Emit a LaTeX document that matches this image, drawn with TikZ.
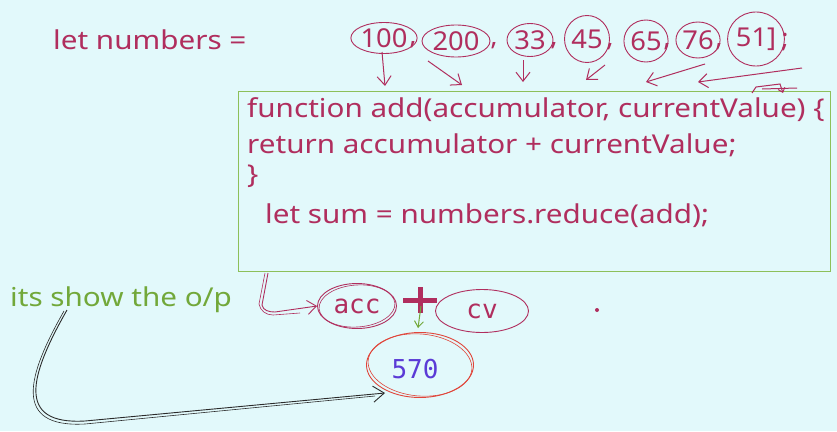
\documentclass[tikz,border=0pt]{standalone}
\usepackage{fontspec}
\setmainfont{Noto Sans}
\newfontfamily\handf[FakeStretch=1.14]{Noto Sans}
\newfontfamily\numf[FakeStretch=1.05]{Noto Sans}
\newfontfamily\monof{DejaVu Sans Mono}
\usetikzlibrary{shapes.geometric,arrows.meta}
\definecolor{bg}{HTML}{E2F9FB}
\definecolor{ink}{HTML}{B02E5E}
\definecolor{grn}{HTML}{72A83A}
\definecolor{boxg}{HTML}{8DC05A}
\definecolor{redc}{HTML}{E0453A}
\definecolor{purp}{HTML}{5B3BD6}
\definecolor{blk}{HTML}{2B2B2B}
\tikzset{
  hand/.style={font=\handf\fontsize{26}{30}\selectfont, text=ink, inner sep=0pt},
  num/.style={ellipse, draw=ink, line width=0.9pt, inner sep=0pt, font=\numf\fontsize{26}{30}\selectfont, text=ink},
  comma/.style={font=\numf\fontsize{26}{30}\selectfont, text=ink, inner sep=0pt},
  arr/.style={draw=ink, line width=1pt, -{Straight Barb[length=9pt,width=14pt]}},
  mono/.style={font=\monof\fontsize{26}{30}\selectfont, inner sep=0pt},
}
\begin{document}
\begin{tikzpicture}[x=1pt,y=-1pt]
\fill[bg] (0,0) rectangle (837,431);
\useasboundingbox (0,0) rectangle (837,431);

% let numbers =
\node[hand, anchor=west] (letn) at (53,40) {let numbers =};

% numbers
\node[num, minimum width=47, minimum height=31] (n100) at (384,38) {100};
\node[comma] (c1) at (413,45) {,};
\node[num, minimum width=68, minimum height=32] (n200) at (456,41) {200};
\node[comma] (c2) at (494,46) {,};
\node[num, minimum width=46, minimum height=33] (n33) at (530,40) {33};
\node[comma] (c3) at (554,46) {,};
\node[num, minimum width=45, minimum height=47] (n45) at (587,39) {45};
\node[comma] (c4) at (610,47) {,};
\node[num, minimum width=43, minimum height=42] (n65) at (646,41) {65};
\node[comma] (c5) at (667,47) {,};
\node[num, minimum width=44, minimum height=36] (n76) at (698,40) {76};
\node[comma] (c6) at (719,47) {,};
\node[num, minimum width=43, minimum height=54] (n51) at (756,39) {51]};
\node[comma] (c7) at (785,42) {;};

% box
\node[draw=boxg, line width=1.3pt, minimum width=592, minimum height=180, anchor=north west, inner sep=0pt] (box) at (238,91) {};
\node[hand, anchor=west] (l1) at (247,110) {function add(accumulator, currentValue) \{};
\node[hand, anchor=west] (l2) at (247,145) {return accumulator + currentValue;};
\node[hand, anchor=west] (l3) at (247,176) {\}};
\node[hand, anchor=west] (l4) at (265,216) {let sum = numbers.reduce(add);};

% arrows from numbers to box
\coordinate (s1) at (382,52);  \coordinate (t1) at (385,86);
\coordinate (s2) at (428,61);  \coordinate (t2) at (462,85);
\coordinate (s3) at (523,60);  \coordinate (t3) at (523,82);
\coordinate (s4) at (605,65);  \coordinate (t4) at (586,80);
\coordinate (s5) at (705,64);  \coordinate (t5) at (646,82);
\coordinate (s6) at (802,68);  \coordinate (t6) at (698,82);
\draw[arr] (s1) -- (t1);
\draw[arr] (s2) -- (t2);
\draw[arr] (s3) -- (t3);
\draw[arr] (s4) -- (t4);
\draw[arr] (s5) -- (t5);
\draw[arr] (s6) -- (t6);
\coordinate (q1) at (752,93); \coordinate (q2) at (783,93);
\draw[arr, -{Straight Barb[length=4pt,width=7pt]}] (q1) -- ++(4,-6) -- ++(24,-3) -- (q2);
\draw[draw=ink, line width=1pt] (762,89) -- (797,88);

% bottom
\node[hand, text=grn, anchor=west] (its) at (10,300) {its show the o/p};

\node[ellipse, draw=ink, line width=0.9pt, minimum width=79, minimum height=45, inner sep=0pt, mono, text=ink] (acc) at (357,306) {acc};
\draw[ink, line width=0.6pt, rotate around={4:(acc.center)}] (acc.center) ellipse [x radius=38, y radius=21];

\coordinate (plus) at (420,300);
\draw[ink, line width=5pt] (plus) ++(-17,0) -- ++(34,0);
\draw[ink, line width=5pt] (plus) ++(0,-13) -- ++(0,26);

\node[ellipse, draw=ink, line width=0.9pt, minimum width=93, minimum height=43, inner sep=0pt, mono, text=ink] (cv) at (482,311) {cv};

\node[ellipse, draw=redc, line width=0.9pt, minimum width=107, minimum height=65, inner sep=0pt] (res) at (420,365) {};
\draw[redc, line width=0.6pt, rotate around={-5:(res.center)}] (res.center) ellipse [x radius=52, y radius=31];
\node[mono, text=purp] (val) at (415,369) {570};

\fill[ink] (597,310) circle (2);

% green small arrow from plus down
\coordinate (g1) at (421,306);
\draw[grn, line width=1pt, -{Straight Barb[length=6pt,width=9pt]}] (g1) -- (418,328);

% magenta arrow from box to acc
\coordinate (b1) at (268,273);
\draw[ink, line width=0.9pt, -{Straight Barb[length=9pt,width=14pt]}] (b1) -- (262,305) to[out=-80,in=180] (275,312) -- (acc.west);
\draw[ink, line width=0.6pt] (265,273) -- (259,304) to[out=-80,in=180] (273,315) -- (300,313);

% black arrow from text to result
\coordinate (k1) at (67,310);
\coordinate (k2) at (385,393);
\draw[blk, line width=0.9pt, -{Straight Barb[length=11pt,width=16pt]}] (k1) .. controls (30,375) and (15,425) .. (85,421) -- (k2);
\draw[blk, line width=0.6pt] (64,311) .. controls (27,376) and (12,428) .. (85,424) -- (375,396);
\end{tikzpicture}
\end{document}
